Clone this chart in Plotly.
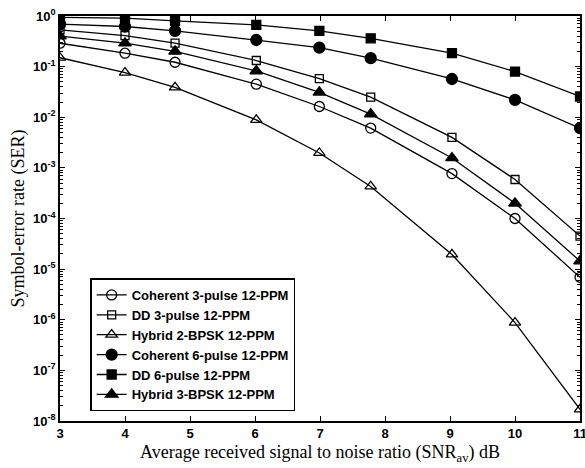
import plotly.graph_objects as go

snr_db = [3, 4, 4.77, 6.02, 6.99, 7.78, 9.03, 10, 11]

coherent_3pulse = [0.29, 0.184, 0.122, 0.045, 0.0163, 0.0061, 7.7e-4, 1.0e-4, 6.9e-6]
dd_3pulse = [0.53, 0.41, 0.29, 0.132, 0.058, 0.025, 4.0e-3, 5.9e-4, 4.5e-5]
hybrid_2bpsk = [0.15, 0.076, 0.039, 0.0089, 1.97e-3, 4.3e-4, 1.95e-5, 8.8e-7, 1.7e-8]
coherent_6pulse = [0.69, 0.62, 0.51, 0.336, 0.238, 0.147, 0.057, 0.022, 0.0061]
dd_6pulse = [0.94, 0.91, 0.80, 0.665, 0.51, 0.363, 0.184, 0.080, 0.0257]
hybrid_3bpsk = [0.40, 0.29, 0.20, 0.082, 0.031, 0.0115, 1.57e-3, 2.0e-4, 1.44e-5]

series = [
    ("Coherent 3-pulse 12-PPM", coherent_3pulse, "circle-open", 10),
    ("DD 3-pulse 12-PPM", dd_3pulse, "square-open", 8),
    ("Hybrid 2-BPSK 12-PPM", hybrid_2bpsk, "triangle-up-open", 10),
    ("Coherent 6-pulse 12-PPM", coherent_6pulse, "circle", 11),
    ("DD 6-pulse 12-PPM", dd_6pulse, "square", 9),
    ("Hybrid 3-BPSK 12-PPM", hybrid_3bpsk, "triangle-up", 11),
]

x_ticks = [3, 4, 5, 6, 7, 8, 9, 10, 11]
y_tickvals = [1e-8, 1e-7, 1e-6, 1e-5, 1e-4, 1e-3, 1e-2, 1e-1, 1]
y_ticktext = ["10<sup>-8</sup>", "10<sup>-7</sup>", "10<sup>-6</sup>", "10<sup>-5</sup>",
              "10<sup>-4</sup>", "10<sup>-3</sup>", "10<sup>-2</sup>", "10<sup>-1</sup>",
              "10<sup>0</sup>"]
y_minor = [m * 10.0 ** e for e in range(-8, 0) for m in range(2, 10)]

fig = go.Figure()
for name, vals, sym, sz in series:
    fig.add_trace(go.Scatter(
        x=snr_db, y=vals, name=name, mode="lines+markers",
        line=dict(color="black", width=1.3),
        marker=dict(symbol=sym, size=sz, color="black",
                    line=dict(color="black", width=1.3)),
    ))

tickfont = dict(family="Liberation Sans, Arial", size=13, color="black", weight="bold")
titlefont = dict(family="Liberation Serif, Times New Roman", size=18, color="black")

fig.update_layout(
    width=585, height=468,
    margin=dict(l=60, r=5, t=16, b=47),
    paper_bgcolor="white", plot_bgcolor="white",
    showlegend=True,
    legend=dict(
        x=0.058, y=0.352, xanchor="left", yanchor="top",
        bgcolor="white", bordercolor="black", borderwidth=1.5,
        font=dict(family="Liberation Sans, Arial", size=13, color="black", weight="bold"),
        tracegroupgap=0, itemwidth=30,
    ),
    xaxis=dict(
        range=[3, 11], tickvals=x_ticks, ticktext=[str(v) for v in x_ticks],
        ticks="inside", ticklen=5, tickcolor="black", tickwidth=1,
        showline=True, linecolor="black", linewidth=1.5, mirror="ticks",
        showgrid=False, zeroline=False, tickfont=tickfont, automargin=False,
        ticklabeloverflow="allow",
        title=dict(text="Average received signal to noise ratio (SNR<sub>av</sub>) dB",
                   font=titlefont, standoff=5),
    ),
    yaxis=dict(
        type="log", range=[-8, 0], tickvals=y_tickvals, ticktext=y_ticktext,
        ticks="inside", ticklen=5, tickcolor="black", tickwidth=1,
        showline=True, linecolor="black", linewidth=1.5, mirror="ticks",
        showgrid=False, zeroline=False, tickfont=tickfont, automargin=False,
        ticklabeloverflow="allow",
        minor=dict(tickvals=y_minor, ticks="inside", ticklen=3, tickcolor="black",
                   tickwidth=0.8, showgrid=False),
        title=dict(text="Symbol-error rate (SER)", font=titlefont, standoff=4),
    ),
)

fig.write_html("out.html", config={"displayModeBar": False},
               post_script="document.body.style.margin='0';")
